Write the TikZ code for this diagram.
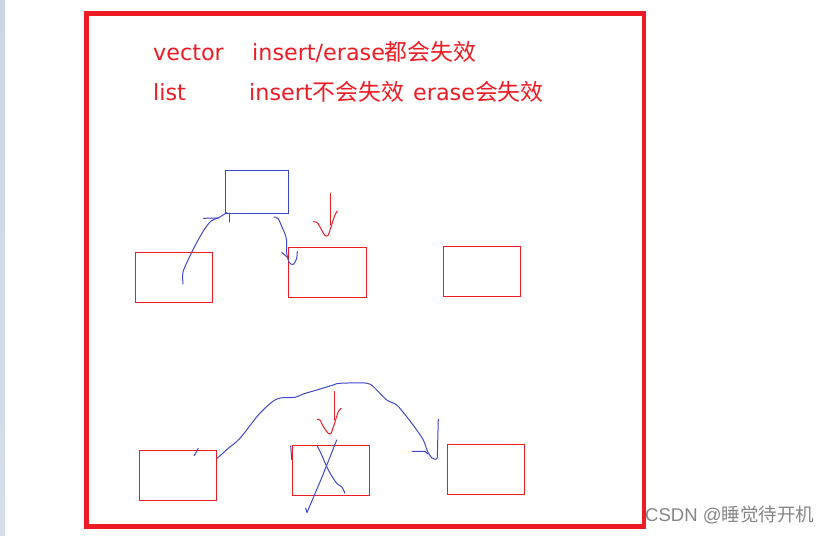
\documentclass[tikz,border=0pt]{standalone}
\usepackage{fontspec}
\usetikzlibrary{fit}
\newfontfamily\latfont{DejaVu Sans}
\newfontfamily\cjkfont{Noto Sans CJK SC}
\newfontfamily\wmfont{Liberation Sans}
\definecolor{pred}{RGB}{237,28,36}
\definecolor{pblue}{RGB}{63,72,204}
\definecolor{strip}{RGB}{205,214,229}
\newcommand\cjkbig{\fontsize{19.5}{22}\selectfont\cjkfont}
\tikzset{
  frame/.style   = {draw=pred, line width=4.25pt},
  redbox/.style  = {draw=pred, line width=0.85pt, inner sep=0pt},
  bluebox/.style = {draw=pblue, line width=0.85pt, inner sep=0pt},
  pen/.style     = {draw=pblue, line width=0.85pt, line join=round, line cap=round},
  redpen/.style  = {draw=pred, line width=0.85pt, line join=round, line cap=round},
  txt/.style     = {text=pred, anchor=base west, inner sep=0pt,
                    font=\fontsize{19}{22}\selectfont},
  wmark/.style   = {text=black!48, anchor=base west, inner sep=0pt,
                    font=\fontsize{15.8}{18}\selectfont},
}

\begin{document}
\begin{tikzpicture}[x=0.03cm, y=-0.03cm]
\useasboundingbox (0,0) rectangle (831,536);
\shade[top color=strip, bottom color=strip!80] (0,0) rectangle (5,536);
\draw[frame] (86.5,13.5) rectangle (644,526.5);

% --- the two lines of text --------------------------------------------------
\node[txt] (vec)    at (153,61)  {\latfont vector};
\node[txt] (vecops) at (252,61)  {\latfont insert/erase\cjkbig 都会失效};
\node[txt] (lst)    at (153,101) {\latfont list};
\node[txt] (lstins) at (249,101) {\latfont insert\cjkbig 不会失效};
\node[txt] (lsters) at (413,101) {\latfont erase\cjkbig 会失效};

% --- upper sketch: insert ---------------------------------------------------
\node[bluebox, fit={(225,170) (288,213)}] (new) {};
\node[redbox,  fit={(135,252) (212,302)}] (a1)  {};
\node[redbox,  fit={(288,247) (366,297)}] (a2)  {};
\node[redbox,  fit={(443,246) (520,296)}] (a3)  {};

\draw[pen] plot[smooth] coordinates {(183,284) (183,272) (189,258) (197,242)
  (204,230) (211,221) (219,217.5) (227,212.5)};
\draw[pen] (203.3,218.3) -- (219,218);
\draw[pen] (229,213) -- (229,222);
\draw[pen] plot[smooth] coordinates {(274,217) (278,218.5) (282,227) (285,234)
  (286.7,241) (286.7,253) (289,262) (293,264.5) (296.5,259) (297.3,251.5)};
\draw[pen] (281.7,252.3) -- (286.7,256.7);
% red mark over the old position
\draw[redpen] (330.7,193.3) -- (330.7,225);
\draw[redpen] plot[smooth] coordinates {(313.3,221.7) (316.7,222.3) (318.3,224)
  (321.7,230) (325,235.5) (328,235.5) (331,227) (333.5,219) (335.5,214) (337.3,211)};

% --- lower sketch: erase ----------------------------------------------------
\node[redbox, fit={(139,450) (216,500)}] (b1) {};
\node[redbox, fit={(292,445) (369,495)}] (b2) {};
\node[redbox, fit={(447,444) (524,494)}] (b3) {};

\draw[pen] (194.3,455.7) -- (198.3,448.3);
\draw[pen] plot[smooth] coordinates {(217.3,458.3) (228.3,448.3) (240,438.3)
  (258.3,415) (271.7,402.3) (280,398) (295,397.3) (303.3,394) (316.7,390)
  (333.3,385) (340,383.3) (367.3,383.3) (376.7,390) (386.7,400) (396.7,405)
  (406.7,416.7) (416.7,430) (423.3,440) (427.7,451.7) (431.7,457.7) (436,459.3)
  (437.3,457.3)} -- (438.3,419.3);
\draw[pen] (412.3,451.3) -- (425,451.3) -- (428,454);
\draw[redpen] (334.7,391.7) -- (334.7,420);
\draw[redpen] plot[smooth] coordinates {(317.3,419.3) (320,420) (323.3,426.7)
  (328.3,433.3) (331,433.3) (334,425) (338.3,411.7) (341.3,408.3)};
% cross over the erased node
\draw[pen] (290.7,446) -- (291.7,459.3);
\draw[pen] plot[smooth] coordinates {(336.7,440) (330,457) (322,477) (314,496)
  (307,512.5)} -- (305.7,508.3);
\draw[pen] plot[smooth] coordinates {(317.3,446) (321.7,455) (328.3,470)
  (336.7,483.3) (341.7,486.7) (345,493.3)};

\node[wmark] (wm) at (645,521.7) {\wmfont CSDN @\cjkfont 睡觉待开机};
\end{tikzpicture}
\end{document}
